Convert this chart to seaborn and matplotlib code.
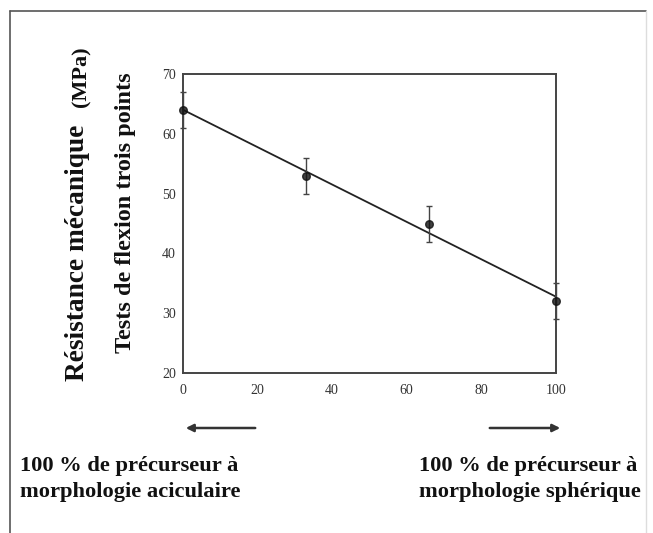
import matplotlib
matplotlib.use("Agg")
import matplotlib.pyplot as plt
import seaborn as sns
import pandas as pd
from matplotlib.lines import Line2D
from matplotlib.patches import FancyArrowPatch
from matplotlib.ticker import MultipleLocator

# Data
fraction_spherique = [0, 33, 66, 100]
resistance = [64, 53, 45, 32]
erreur = [3, 3, 3, 3]
x_ticks = [0, 20, 40, 60, 80, 100]
y_ticks = [20, 30, 40, 50, 60, 70]

df = pd.DataFrame({"x": fraction_spherique, "y": resistance})

sns.set_theme(style="white")
plt.rcParams['font.family'] = ['Liberation Serif', 'DejaVu Serif']

fig = plt.figure(figsize=(6.53, 5.33), dpi=100)
ax = fig.add_axes([0.280, 0.300, 0.571, 0.561])

sns.regplot(data=df, x="x", y="y", ci=None, ax=ax, truncate=True,
            scatter_kws=dict(color="#111111", s=30, zorder=4, clip_on=False),
            line_kws=dict(color="#222222", lw=1.3))
ax.errorbar(fraction_spherique, resistance, yerr=erreur, fmt="none",
            ecolor="#444444", elinewidth=1.0, capsize=2.5, capthick=1.0,
            clip_on=False, zorder=3)

ax.set_xlim(0, 100)
ax.set_ylim(20, 70)
ax.set_xticks(x_ticks)
ax.set_yticks(y_ticks)
ax.xaxis.set_minor_locator(MultipleLocator(5))
ax.yaxis.set_minor_locator(MultipleLocator(5))
ax.tick_params(axis="both", which="major", direction="in", length=4, width=1,
               colors="#555555", labelsize=10, labelcolor="#333333", pad=5)
ax.tick_params(axis="x", which="major", pad=8)
ax.tick_params(axis="both", which="minor", direction="in", length=2, width=0.8,
               colors="#777777")
ax.set_xlabel("")
ax.set_ylabel("")
for s in ax.spines.values():
    s.set_linewidth(1.4)
    s.set_color("#444444")

W, H = 653, 533
def fx(px):
    return px / W
def fy(py):
    return 1 - py / H

# Outer frame (left, top, right)
fig.add_artist(Line2D([fx(10), fx(10)], [0, fy(11)], color="#555555", lw=1.2))
fig.add_artist(Line2D([fx(10), fx(646)], [fy(11), fy(11)], color="#555555", lw=1.2))
fig.add_artist(Line2D([fx(646), fx(646)], [0, fy(11)], color="#dddddd", lw=1.0))

# Y labels
fig.text(fx(77), fy(381), "Résistance mécanique", rotation=90, ha="center",
         va="bottom", fontsize=19.7, fontweight="bold", color="#111111")
fig.text(fx(81), fy(46), "(MPa)", rotation=90, ha="center",
         va="top", fontsize=16, fontweight="bold", color="#111111")
fig.text(fx(126), fy(213), "Tests de flexion trois points", rotation=90,
         ha="center", va="center", fontsize=17.5, fontweight="bold", color="#111111")

# Arrows
fig.add_artist(FancyArrowPatch((fx(258), fy(428)), (fx(183), fy(428)),
                               transform=fig.transFigure, arrowstyle="-|>",
                               mutation_scale=11, color="#333333", lw=1.8))
fig.add_artist(FancyArrowPatch((fx(487), fy(428)), (fx(563), fy(428)),
                               transform=fig.transFigure, arrowstyle="-|>",
                               mutation_scale=11, color="#333333", lw=1.8))

# Bottom texts
kw = dict(fontsize=16.2, fontweight="bold", color="#111111", va="center")
fig.text(fx(20), fy(466), "100 % de précurseur à", ha="left", **kw)
fig.text(fx(20), fy(492), "morphologie aciculaire", ha="left", **kw)
fig.text(fx(419), fy(466), "100 % de précurseur à", ha="left", **kw)
fig.text(fx(419), fy(492), "morphologie sphérique", ha="left", **kw)

fig.savefig("out.png", dpi=100, facecolor="white")
